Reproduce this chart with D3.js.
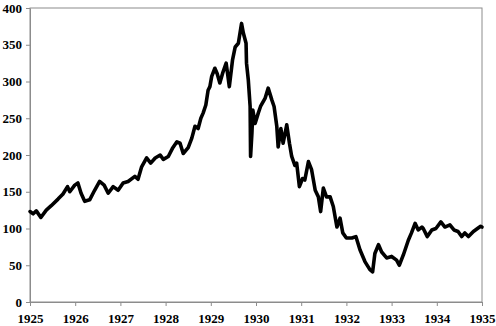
<!DOCTYPE html>
<html>
<head>
<meta charset="utf-8">
<script src="https://cdn.jsdelivr.net/npm/d3@7"></script>
<style>
  html, body { margin: 0; padding: 0; background: #fff; }
  svg { display: block; }
</style>
</head>
<body>
<svg id="chart" width="496" height="326"></svg>
<script>
// Decimal-year dates and index values
const dates = [
  1925.00, 1925.07, 1925.14, 1925.24, 1925.36, 1925.47, 1925.62, 1925.73, 1925.83, 1925.88,
  1925.99, 1926.06, 1926.13, 1926.21, 1926.32, 1926.43, 1926.54, 1926.64, 1926.73, 1926.84,
  1926.95, 1927.06, 1927.17, 1927.32, 1927.39, 1927.47, 1927.58, 1927.67, 1927.77, 1927.88,
  1927.95, 1928.06, 1928.16, 1928.25, 1928.32, 1928.39, 1928.50, 1928.58, 1928.65, 1928.72,
  1928.78, 1928.83, 1928.89, 1928.94, 1928.98, 1929.02, 1929.09, 1929.14, 1929.20, 1929.26,
  1929.34, 1929.41, 1929.48, 1929.54, 1929.61, 1929.68, 1929.72, 1929.78, 1929.79, 1929.83,
  1929.87, 1929.88, 1929.91, 1929.93, 1929.98, 1930.05, 1930.10, 1930.20, 1930.27, 1930.35,
  1930.40, 1930.46, 1930.49, 1930.55, 1930.60, 1930.68, 1930.74, 1930.79, 1930.86, 1930.90,
  1930.96, 1931.03, 1931.08, 1931.16, 1931.23, 1931.31, 1931.38, 1931.43, 1931.49, 1931.56,
  1931.64, 1931.71, 1931.79, 1931.86, 1931.92, 1932.00, 1932.12, 1932.21, 1932.30, 1932.41,
  1932.52, 1932.58, 1932.63, 1932.71, 1932.78, 1932.89, 1933.00, 1933.11, 1933.17, 1933.26,
  1933.37, 1933.44, 1933.52, 1933.59, 1933.67, 1933.70, 1933.79, 1933.89, 1933.98, 1934.09,
  1934.18, 1934.29, 1934.38, 1934.47, 1934.55, 1934.62, 1934.70, 1934.81, 1934.90, 1934.97,
  1935.00
];
const values = [
  123, 120, 124, 115, 125, 131, 140, 147, 157, 150,
  159, 162, 148, 137, 139, 152, 164, 159, 148, 157,
  152, 162, 164, 171, 167, 184, 196, 189, 196, 200,
  194, 198, 210, 218, 216, 202, 210, 223, 239, 236,
  250, 257, 268, 288, 293, 307, 318, 311, 298, 311,
  325, 293, 329, 347, 352, 379, 366, 352, 325, 302,
  266, 198, 230, 261, 243, 257, 266, 277, 291, 275,
  266, 239, 211, 236, 216, 241, 216, 198, 186, 189,
  157, 168, 166, 191, 180, 152, 143, 123, 155, 143,
  143, 130, 102, 114, 94, 87, 87, 89, 71, 55,
  44, 41, 66, 78, 68, 60, 62, 57, 50, 64,
  84, 94, 107, 98, 102, 100, 89, 98, 100, 109,
  102, 105, 98, 96, 89, 94, 89, 96, 100, 103,
  102
];
const xTicks = [1925, 1926, 1927, 1928, 1929, 1930, 1931, 1932, 1933, 1934, 1935];
const yTicks = [0, 50, 100, 150, 200, 250, 300, 350, 400];

const data = dates.map((d, i) => ({ t: d, v: values[i] }));

const svg = d3.select("#chart");
const mLeft = 30, mRight = 482, mTop = 8, mBottom = 302;
const axisColor = "#8c8c8c";
const fontFam = "'Liberation Serif', 'Times New Roman', serif";

const x = d3.scaleLinear().domain([1925, 1935]).range([mLeft, mRight]);
const y = d3.scaleLinear().domain([0, 400]).range([mBottom, mTop]);

// frame
svg.append("rect")
  .attr("x", mLeft).attr("y", mTop)
  .attr("width", mRight - mLeft).attr("height", mBottom - mTop)
  .attr("fill", "none").attr("stroke", axisColor).attr("stroke-width", 1);

// x axis
const xAxis = svg.append("g")
  .attr("transform", `translate(0,${mBottom})`)
  .call(d3.axisBottom(x).tickValues(xTicks).tickFormat(d3.format("d")).tickSize(4).tickSizeOuter(0));
xAxis.select(".domain").attr("stroke", axisColor);
xAxis.selectAll(".tick line").attr("stroke", axisColor);
xAxis.selectAll(".tick text")
  .attr("font-size", 13).attr("font-family", fontFam).attr("font-weight", "bold")
  .attr("fill", "#000").attr("dy", "0.95em").attr("y", 9);

// y axis
const yAxis = svg.append("g")
  .attr("transform", `translate(${mLeft},0)`)
  .call(d3.axisLeft(y).tickValues(yTicks).tickFormat(d3.format("d")).tickSize(4).tickSizeOuter(0));
yAxis.select(".domain").attr("stroke", axisColor);
yAxis.selectAll(".tick line").attr("stroke", axisColor);
yAxis.selectAll(".tick text")
  .attr("font-size", 13).attr("font-family", fontFam).attr("font-weight", "bold")
  .attr("fill", "#000").attr("x", -8);

// line
const line = d3.line().x(d => x(d.t)).y(d => y(d.v));
svg.append("path")
  .datum(data)
  .attr("d", line)
  .attr("fill", "none")
  .attr("stroke", "#000")
  .attr("stroke-width", 3.6)
  .attr("stroke-linejoin", "round")
  .attr("stroke-linecap", "round");
</script>
</body>
</html>
